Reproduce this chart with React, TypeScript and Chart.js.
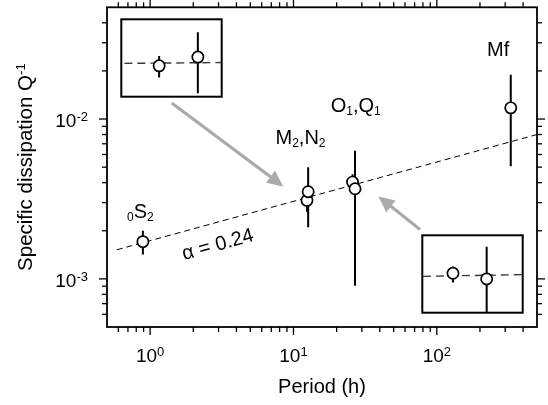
import React, { useEffect, useRef } from "react";
import { Chart, registerables } from "chart.js";

Chart.register(...registerables);

// ---------------- data ----------------
const tideNames = ["0S2", "M2", "N2", "O1", "Q1", "Mf"];
const periodHours = [0.89, 12.42, 12.66, 25.82, 26.87, 328];
const dissipation = [1.71e-3, 3.1e-3, 3.51e-3, 4.03e-3, 3.66e-3, 1.175e-2];
const dissipationLow = [1.42e-3, 2.63e-3, 2.1e-3, 3.45e-3, 9.05e-4, 5.06e-3];
const dissipationHigh = [2.0e-3, 3.57e-3, 4.99e-3, 4.52e-3, 6.34e-3, 1.89e-2];

const fitLinePeriods = [0.585, 500];
const fitLineValues = [1.52e-3, 8.0e-3];
const fitLabel = "\u03b1 = 0.24";
const fitLabelPeriod = 2.97;
const fitLabelValue = 1.63e-3;

const xRange = [0.5, 500];
const yRange = [5e-4, 5e-2];
const xMajorTicks = [1, 10, 100];
const xMajorExponents = ["0", "1", "2"];
const xMinorTicks = [0.6, 0.7, 0.8, 0.9, 2, 3, 4, 5, 6, 7, 8, 9, 20, 30, 40, 50, 60, 70, 80, 90, 200, 300, 400];
const yMajorTicks = [1e-3, 1e-2];
const yMajorExponents = ["-3", "-2"];
const yMinorTicks = [6e-4, 7e-4, 8e-4, 9e-4, 2e-3, 3e-3, 4e-3, 5e-3, 6e-3, 7e-3, 8e-3, 9e-3, 2e-2, 3e-2, 4e-2];

const xTitle = "Period (h)";
const yTitle = "Specific dissipation Q";
const yTitleExponent = "-1";

type Seg = [string, "n" | "sub" | "sup"];
const groupLabels: Seg[][] = [
  [["0", "sub"], ["S", "n"], ["2", "sub"]],
  [["M", "n"], ["2", "sub"], [",N", "n"], ["2", "sub"]],
  [["O", "n"], ["1", "sub"], [",Q", "n"], ["1", "sub"]],
  [["Mf", "n"]],
];
const groupLabelPeriods = [0.689, 7.49, 18.2, 224];
const groupLabelValues = [2.39e-3, 6.99e-3, 1.104e-2, 2.48e-2];

const arrowFromPeriods = [1.414, 76.3];
const arrowFromValues = [1.26e-2, 2.04e-3];
const arrowToPeriods = [8.49, 39.1];
const arrowToValues = [3.79e-3, 3.28e-3];

const inset1Tides = [1, 2];
const inset1XRange = [12.19, 12.81];
const inset1YRange = [2.0e-3, 6.0e-3];
const inset2Tides = [3, 4];
const inset2XRange = [24.94, 28.04];
const inset2YRange = [2.06e-3, 7.69e-3];

// ---------------- helpers ----------------
const FAMILY = '"Liberation Sans", Arial, Helvetica, sans-serif';
const font = (s: number) => `${s}px ${FAMILY}`;

function segSize(kind: string, base: number, small: number) {
  return kind === "n" ? base : small;
}
function measureSegs(ctx: CanvasRenderingContext2D, segs: Seg[], base: number, small: number) {
  let w = 0;
  for (const [t, k] of segs) {
    ctx.font = font(segSize(k, base, small));
    w += ctx.measureText(t).width;
  }
  return w;
}
function drawSegs(
  ctx: CanvasRenderingContext2D,
  segs: Seg[],
  x: number,
  y: number,
  base: number,
  small: number,
  raise: number,
  drop: number
) {
  let cx = x;
  ctx.textAlign = "left";
  ctx.textBaseline = "alphabetic";
  for (const [t, k] of segs) {
    ctx.font = font(segSize(k, base, small));
    const dy = k === "sub" ? drop : k === "sup" ? -raise : 0;
    ctx.fillText(t, cx, y + dy);
    cx += ctx.measureText(t).width;
  }
}

function pointsDataset(idx: number[]) {
  return {
    label: "tides",
    data: idx.map((i) => ({ x: periodHours[i], y: dissipation[i] })),
    showLine: false,
    pointRadius: 5.6,
    pointBorderWidth: 1.7,
    pointBackgroundColor: "#ffffff",
    pointBorderColor: "#000000",
    pointStyle: "circle",
  };
}
function fitDataset(color: string, dash: number[], width: number) {
  return {
    label: "fit",
    data: fitLinePeriods.map((p, i) => ({ x: p, y: fitLineValues[i] })),
    showLine: true,
    borderColor: color,
    borderWidth: width,
    borderDash: dash,
    pointRadius: 0,
    fill: false,
  };
}

function drawErrorBars(chart: any, idx: number[], lw: number) {
  const { ctx, chartArea: a, scales } = chart;
  const x = scales.x;
  const y = scales.y;
  ctx.save();
  ctx.beginPath();
  ctx.rect(a.left, a.top, a.right - a.left, a.bottom - a.top);
  ctx.clip();
  ctx.strokeStyle = "#000";
  ctx.lineWidth = lw;
  for (const i of idx) {
    const px = x.getPixelForValue(periodHours[i]);
    ctx.beginPath();
    ctx.moveTo(px, y.getPixelForValue(dissipationLow[i]));
    ctx.lineTo(px, y.getPixelForValue(dissipationHigh[i]));
    ctx.stroke();
  }
  ctx.restore();
}

const allTides = tideNames.map((_, i) => i);

const mainPlugin = {
  id: "mainDecor",
  beforeDatasetDraw(chart: any, args: any) {
    if (args.index === 0) drawErrorBars(chart, allTides, 2);
  },
  afterDraw(chart: any) {
    const { ctx, chartArea: a, scales } = chart;
    const x = scales.x;
    const y = scales.y;
    ctx.save();
    ctx.fillStyle = "#000";
    ctx.strokeStyle = "#000";
    const seg = (x1: number, y1: number, x2: number, y2: number) => {
      ctx.beginPath();
      ctx.moveTo(x1, y1);
      ctx.lineTo(x2, y2);
      ctx.stroke();
    };
    // ticks
    ctx.lineWidth = 1.3;
    xMajorTicks.forEach((v) => {
      const p = x.getPixelForValue(v);
      seg(p, a.bottom, p, a.bottom + 8);
      seg(p, a.top, p, a.top - 8);
    });
    xMinorTicks.forEach((v) => {
      const p = x.getPixelForValue(v);
      seg(p, a.bottom, p, a.bottom + 5);
      seg(p, a.top, p, a.top - 5);
    });
    yMajorTicks.forEach((v) => {
      const p = y.getPixelForValue(v);
      seg(a.left, p, a.left - 8, p);
      seg(a.right, p, a.right + 8, p);
    });
    yMinorTicks.forEach((v) => {
      const p = y.getPixelForValue(v);
      seg(a.left, p, a.left - 5, p);
      seg(a.right, p, a.right + 5, p);
    });
    // frame
    ctx.lineWidth = 1.8;
    ctx.strokeRect(a.left, a.top, a.right - a.left, a.bottom - a.top);

    // tick labels
    xMajorTicks.forEach((v, i) => {
      const segs: Seg[] = [["10", "n"], [xMajorExponents[i], "sup"]];
      const w = measureSegs(ctx, segs, 19, 13);
      const p = x.getPixelForValue(v);
      drawSegs(ctx, segs, p - w / 2, a.bottom + 35, 19, 13, 6, 0);
    });
    yMajorTicks.forEach((v, i) => {
      const segs: Seg[] = [["10", "n"], [yMajorExponents[i], "sup"]];
      const w = measureSegs(ctx, segs, 19, 13);
      const p = y.getPixelForValue(v);
      drawSegs(ctx, segs, a.left - 19 - w, p + 8, 19, 13, 6, 0);
    });

    // axis titles
    ctx.font = font(20);
    ctx.textAlign = "center";
    ctx.textBaseline = "alphabetic";
    ctx.fillText(xTitle, (a.left + a.right) / 2, 393);
    const ySegs: Seg[] = [[yTitle, "n"], [yTitleExponent, "sup"]];
    const yw = measureSegs(ctx, ySegs, 20.5, 13);
    ctx.save();
    ctx.translate(32, (a.top + a.bottom) / 2);
    ctx.rotate(-Math.PI / 2);
    drawSegs(ctx, ySegs, -yw / 2, 0, 20.5, 13, 7, 0);
    ctx.restore();

    // group labels
    groupLabels.forEach((segs, i) => {
      drawSegs(
        ctx,
        segs,
        x.getPixelForValue(groupLabelPeriods[i]),
        y.getPixelForValue(groupLabelValues[i]),
        20,
        12,
        7,
        3
      );
    });

    // slope label
    const x1 = x.getPixelForValue(fitLinePeriods[0]);
    const y1 = y.getPixelForValue(fitLineValues[0]);
    const x2 = x.getPixelForValue(fitLinePeriods[1]);
    const y2 = y.getPixelForValue(fitLineValues[1]);
    const ang = Math.atan2(y2 - y1, x2 - x1);
    ctx.save();
    ctx.translate(x.getPixelForValue(fitLabelPeriod), y.getPixelForValue(fitLabelValue));
    ctx.rotate(ang);
    ctx.font = font(20);
    ctx.textAlign = "center";
    ctx.textBaseline = "middle";
    ctx.fillText(fitLabel, 0, 0);
    ctx.restore();

    // arrows
    ctx.strokeStyle = "#aaaaaa";
    ctx.fillStyle = "#aaaaaa";
    ctx.lineWidth = 3.2;
    arrowFromPeriods.forEach((_, i) => {
      const sx = x.getPixelForValue(arrowFromPeriods[i]);
      const sy = y.getPixelForValue(arrowFromValues[i]);
      const tx = x.getPixelForValue(arrowToPeriods[i]);
      const ty = y.getPixelForValue(arrowToValues[i]);
      const dx = tx - sx;
      const dy = ty - sy;
      const len = Math.hypot(dx, dy);
      const ux = dx / len;
      const uy = dy / len;
      const hl = 16;
      const hw = 7.5;
      const bx = tx - ux * hl;
      const by = ty - uy * hl;
      ctx.beginPath();
      ctx.moveTo(sx, sy);
      ctx.lineTo(bx + ux * 2, by + uy * 2);
      ctx.stroke();
      ctx.beginPath();
      ctx.moveTo(tx, ty);
      ctx.lineTo(bx - uy * hw, by + ux * hw);
      ctx.lineTo(bx + uy * hw, by - ux * hw);
      ctx.closePath();
      ctx.fill();
    });
    ctx.restore();
  },
};

function insetPlugin(idx: number[]) {
  return {
    id: "insetDecor",
    beforeDraw(chart: any) {
      const { ctx, chartArea: a } = chart;
      ctx.save();
      ctx.fillStyle = "#ffffff";
      ctx.fillRect(a.left, a.top, a.right - a.left, a.bottom - a.top);
      ctx.restore();
    },
    beforeDatasetDraw(chart: any, args: any) {
      if (args.index === 0) drawErrorBars(chart, idx, 2);
    },
    afterDraw(chart: any) {
      const { ctx, chartArea: a } = chart;
      ctx.save();
      ctx.strokeStyle = "#000";
      ctx.lineWidth = 2;
      ctx.strokeRect(a.left, a.top, a.right - a.left, a.bottom - a.top);
      ctx.restore();
    },
  };
}

const baseOptions = {
  animation: false as const,
  responsive: false,
  devicePixelRatio: 1,
  events: [] as any[],
  plugins: {
    legend: { display: false },
    tooltip: { enabled: false },
    title: { display: false },
  },
};

function MainChart() {
  const ref = useRef<HTMLCanvasElement>(null);
  useEffect(() => {
    const chart = new Chart(ref.current as HTMLCanvasElement, {
      type: "scatter",
      data: { datasets: [pointsDataset(allTides) as any, fitDataset("#000000", [6, 4], 1) as any] },
      options: {
        ...baseOptions,
        layout: { padding: { left: 107, right: 11, top: 4, bottom: 78 } },
        scales: {
          x: { type: "logarithmic", min: xRange[0], max: xRange[1], display: false },
          y: { type: "logarithmic", min: yRange[0], max: yRange[1], display: false },
        },
      } as any,
      plugins: [mainPlugin],
    });
    return () => chart.destroy();
  }, []);
  return (
    <canvas
      ref={ref}
      width={548}
      height={405}
      style={{ position: "absolute", left: 0, top: 0, width: 548, height: 405 }}
    />
  );
}

function Inset(props: { tides: number[]; xr: number[]; yr: number[]; left: number; top: number; w: number; h: number }) {
  const ref = useRef<HTMLCanvasElement>(null);
  const pad = 3;
  useEffect(() => {
    const chart = new Chart(ref.current as HTMLCanvasElement, {
      type: "scatter",
      data: {
        datasets: [pointsDataset(props.tides) as any, fitDataset("#3a3a3a", [8, 5], 1.4) as any],
      },
      options: {
        ...baseOptions,
        layout: { padding: pad },
        scales: {
          x: { type: "logarithmic", min: props.xr[0], max: props.xr[1], display: false },
          y: { type: "logarithmic", min: props.yr[0], max: props.yr[1], display: false },
        },
      } as any,
      plugins: [insetPlugin(props.tides)],
    });
    return () => chart.destroy();
  }, []);
  return (
    <canvas
      ref={ref}
      width={props.w + 2 * pad}
      height={props.h + 2 * pad}
      style={{
        position: "absolute",
        left: props.left - pad,
        top: props.top - pad,
        width: props.w + 2 * pad,
        height: props.h + 2 * pad,
      }}
    />
  );
}

export default function App() {
  return (
    <div style={{ position: "fixed", left: 0, top: 0, width: 548, height: 405, background: "#fff", overflow: "hidden" }}>
      <MainChart />
      <Inset tides={inset1Tides} xr={inset1XRange} yr={inset1YRange} left={117} top={15} w={109} h={86} />
      <Inset tides={inset2Tides} xr={inset2XRange} yr={inset2YRange} left={418} top={231} w={109} h={86} />
    </div>
  );
}
